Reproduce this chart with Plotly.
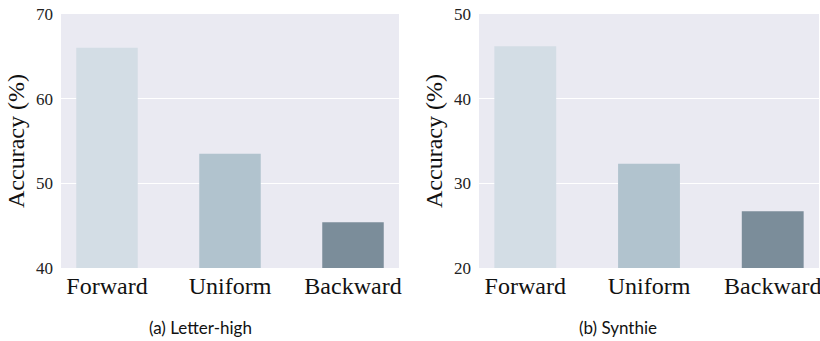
import plotly.graph_objects as go

categories = ["Forward", "Uniform", "Backward"]
letter_high = [66.0, 53.5, 45.4]
synthie = [46.2, 32.3, 26.7]
y_ticks_a = [40, 50, 60, 70]
y_ticks_b = [20, 30, 40, 50]
colors = ["#d3dde5", "#b1c3ce", "#7b8d9a"]

W, H = 820, 341
fig = go.Figure()
fig.add_trace(go.Bar(x=categories, y=letter_high, marker=dict(color=colors, line=dict(width=0)),
                     width=0.5, xaxis="x", yaxis="y", showlegend=False))
fig.add_trace(go.Bar(x=categories, y=synthie, marker=dict(color=colors, line=dict(width=0)),
                     width=0.5, xaxis="x2", yaxis="y2", showlegend=False))

ydom = [1 - 268 / H, 1 - 14 / H]
tickfont_y = dict(family="Liberation Serif", size=17, color="#222")
tickfont_x = dict(family="Liberation Serif", size=24, color="#111")
common_x = dict(showgrid=False, zeroline=False, showline=False, tickfont=tickfont_x,
                range=[-0.374, 2.374], ticks="", ticklabelstandoff=1, automargin=False)
common_y = dict(showgrid=True, gridcolor="white", gridwidth=1, zeroline=False, showline=False,
                tickfont=tickfont_y, ticks="", ticklabelstandoff=7, domain=ydom, automargin=False)
fig.update_layout(
    template="none",
    width=W, height=H, margin=dict(l=0, r=0, t=0, b=0, autoexpand=False),
    paper_bgcolor="white", plot_bgcolor="#eaeaf2",
    xaxis=dict(domain=[61 / W, 399 / W], anchor="y", **common_x),
    xaxis2=dict(domain=[479 / W, 819 / W], anchor="y2", **common_x),
    yaxis=dict(anchor="x", range=[40, 70], tickvals=y_ticks_a, **common_y),
    yaxis2=dict(anchor="x2", range=[20, 50], tickvals=y_ticks_b, **common_y),
    bargap=0.5,
)
ann_font = dict(family="Liberation Serif", size=24, color="#111")
cap_font = dict(family="Lato", size=17, color="#111")
fig.add_annotation(x=16 / W, y=1 - 141 / H, xref="paper", yref="paper", text="Accuracy (%)",
                   textangle=-90, showarrow=False, font=ann_font, xanchor="center", yanchor="middle")
fig.add_annotation(x=434 / W, y=1 - 141 / H, xref="paper", yref="paper", text="Accuracy (%)",
                   textangle=-90, showarrow=False, font=ann_font, xanchor="center", yanchor="middle")
fig.add_annotation(x=200 / W, y=1 - 327 / H, xref="paper", yref="paper", text="(a) Letter-high",
                   showarrow=False, font=cap_font, xanchor="center", yanchor="middle")
fig.add_annotation(x=618 / W, y=1 - 327 / H, xref="paper", yref="paper", text="(b) Synthie",
                   showarrow=False, font=cap_font, xanchor="center", yanchor="middle")
fig.write_html("out.html", config={"displayModeBar": False},
               post_script="document.body.style.margin='0';document.body.style.overflow='hidden';")
